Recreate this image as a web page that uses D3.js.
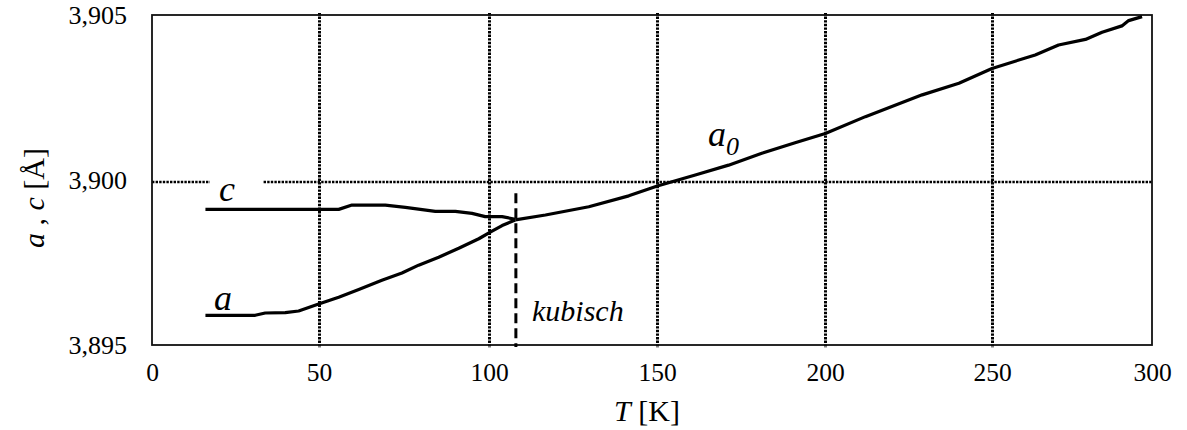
<!DOCTYPE html>
<html>
<head>
<meta charset="utf-8">
<script src="https://cdn.jsdelivr.net/npm/d3@7"></script>
</head>
<body style="margin:0">
<svg id="chart" width="1187" height="430"></svg>
<script>
// Lattice parameters vs. temperature
const tA    = [16, 30.9, 33.9, 39.9, 43.9, 49.9, 55.8, 61.7, 68.5, 74.4, 79.3, 85.2, 91.1, 97.0,
               100.9, 103.9, 107.8];
const aVals = [3.8959, 3.8959, 3.89597, 3.89598, 3.89603, 3.89624, 3.89645, 3.89668, 3.89696,
               3.89718, 3.89742, 3.89766, 3.89793, 3.89822, 3.89845, 3.89862, 3.89879];

const tC    = [16, 55.8, 59.7, 69.5, 75.4, 84.2, 90.1, 95.0, 98.9, 103.9, 107.8];
const cVals = [3.89911, 3.89911, 3.89924, 3.89924, 3.89917, 3.89905, 3.89905, 3.89899,
               3.89889, 3.89889, 3.89881];

const tA0    = [107.8, 116.8, 129.7, 141.6, 150.1, 161.4, 171.3, 181.2, 191.1, 200.1, 212.1,
                229.1, 240.1, 250, 263.5, 270.8, 279.2, 284.4, 290.6, 292.7, 296.9];
const a0Vals = [3.89879, 3.89894, 3.89919, 3.89952, 3.89982, 3.90015, 3.90045, 3.90081,
                3.90113, 3.90141, 3.90192, 3.90258, 3.90293, 3.90338, 3.90379, 3.90409,
                3.90426, 3.90448, 3.90467, 3.90483, 3.90495];

const xTicks = [0, 50, 100, 150, 200, 250, 300];
const yTicks = [3.895, 3.900, 3.905];
const xGrid  = [50, 100, 150, 200, 250];
const yGrid  = [3.900];
const tCubic = 108;   // transition to the cubic phase

const FONT = '"Liberation Serif", serif';

const svg = d3.select("#chart");
const plotL = 152, plotR = 1152, plotT = 15, plotB = 345;

// temperature axis: tick positions of the printed axis
const x = d3.scaleLinear()
  .domain(xTicks)
  .range([plotL, 319, 489, 657, 825, 992, plotR]);
const y = d3.scaleLinear().domain([3.895, 3.905]).range([plotB, plotT]);

const fmt = d => d.toFixed(3).replace(".", ",");

// dotted grid
const dots = "2.4,1.2";
svg.append("g").selectAll("line").data(xGrid).join("line")
  .attr("x1", d => Math.round(x(d)) + 0.5).attr("x2", d => Math.round(x(d)) + 0.5)
  .attr("y1", plotT - 2).attr("y2", plotB + 3)
  .attr("stroke", "#000").attr("stroke-width", 3)
  .attr("stroke-dasharray", dots);

svg.append("g").selectAll("line").data(yGrid).join("line")
  .attr("x1", plotL).attr("x2", plotR)
  .attr("y1", d => Math.round(y(d)) + 2).attr("y2", d => Math.round(y(d)) + 2)
  .attr("stroke", "#000").attr("stroke-width", 2.6)
  .attr("stroke-dasharray", dots);

// plot frame
svg.append("rect")
  .attr("x", plotL).attr("y", plotT)
  .attr("width", plotR - plotL).attr("height", plotB - plotT)
  .attr("fill", "none").attr("stroke", "#111").attr("stroke-width", 1.8);

// axes (labels only)
const xAxis = d3.axisBottom(x).tickValues(xTicks).tickSize(0).tickPadding(0).tickFormat(d3.format("d"));
const gx = svg.append("g").attr("transform", `translate(0,${plotB})`).call(xAxis);
gx.select(".domain").remove();
gx.selectAll("text").attr("font-size", 25.5).attr("dy", null).attr("y", 36).attr("fill", "#000");

const yAxis = d3.axisLeft(y).tickValues(yTicks).tickSize(0).tickPadding(0).tickFormat(fmt);
const gy = svg.append("g").attr("transform", `translate(${plotL},0)`).call(yAxis);
gy.select(".domain").remove();
gy.selectAll("text").attr("font-size", 26).attr("x", -25).attr("dy", "0.33em").attr("fill", "#000");

// cubic transition marker
svg.append("line")
  .attr("x1", x(tCubic)).attr("x2", x(tCubic))
  .attr("y1", y(3.8996)).attr("y2", plotB + 2)
  .attr("stroke", "#000").attr("stroke-width", 3)
  .attr("stroke-dasharray", "10,5");

// curves
const line = d3.line().x(d => x(d[0])).y(d => y(d[1]));
const series = [
  d3.zip(tA, aVals),
  d3.zip(tC, cVals),
  d3.zip(tA0, a0Vals)
];
svg.append("g").selectAll("path").data(series).join("path")
  .attr("d", line)
  .attr("fill", "none").attr("stroke", "#000")
  .attr("stroke-width", 3.2).attr("stroke-linejoin", "round");

// curve labels
svg.append("rect")
  .attr("x", 210).attr("y", 168).attr("width", 53).attr("height", 30).attr("fill", "#fff");
const lbl = svg.append("g");
lbl.append("text").attr("class", "it").attr("x", 219).attr("y", 201).attr("font-size", 36).text("c");
lbl.append("text").attr("class", "it").attr("x", 214).attr("y", 310).attr("font-size", 36).text("a");
const a0 = lbl.append("text").attr("class", "it").attr("x", 708).attr("y", 146).attr("font-size", 36);
a0.append("tspan").text("a");
a0.append("tspan").attr("font-size", 26).attr("dy", 9).text("0");
lbl.append("text").attr("class", "it").attr("x", 532).attr("y", 321).attr("font-size", 30).text("kubisch");

// axis titles
const xt = svg.append("text").attr("x", 647).attr("y", 421)
  .attr("text-anchor", "middle").attr("font-size", 30);
xt.append("tspan").attr("class", "it").text("T");
xt.append("tspan").text(" [K]");

const yt = svg.append("text")
  .attr("transform", "translate(44,198) rotate(-90)")
  .attr("text-anchor", "middle").attr("font-size", 30);
yt.append("tspan").attr("class", "it").text("a");
yt.append("tspan").text(" , ");
yt.append("tspan").attr("class", "it").text("c");
yt.append("tspan").text(" [Å]");

// typography for every label
svg.selectAll("text, tspan").style("font-family", FONT);
svg.selectAll(".it").style("font-style", "italic");
</script>
</body>
</html>
